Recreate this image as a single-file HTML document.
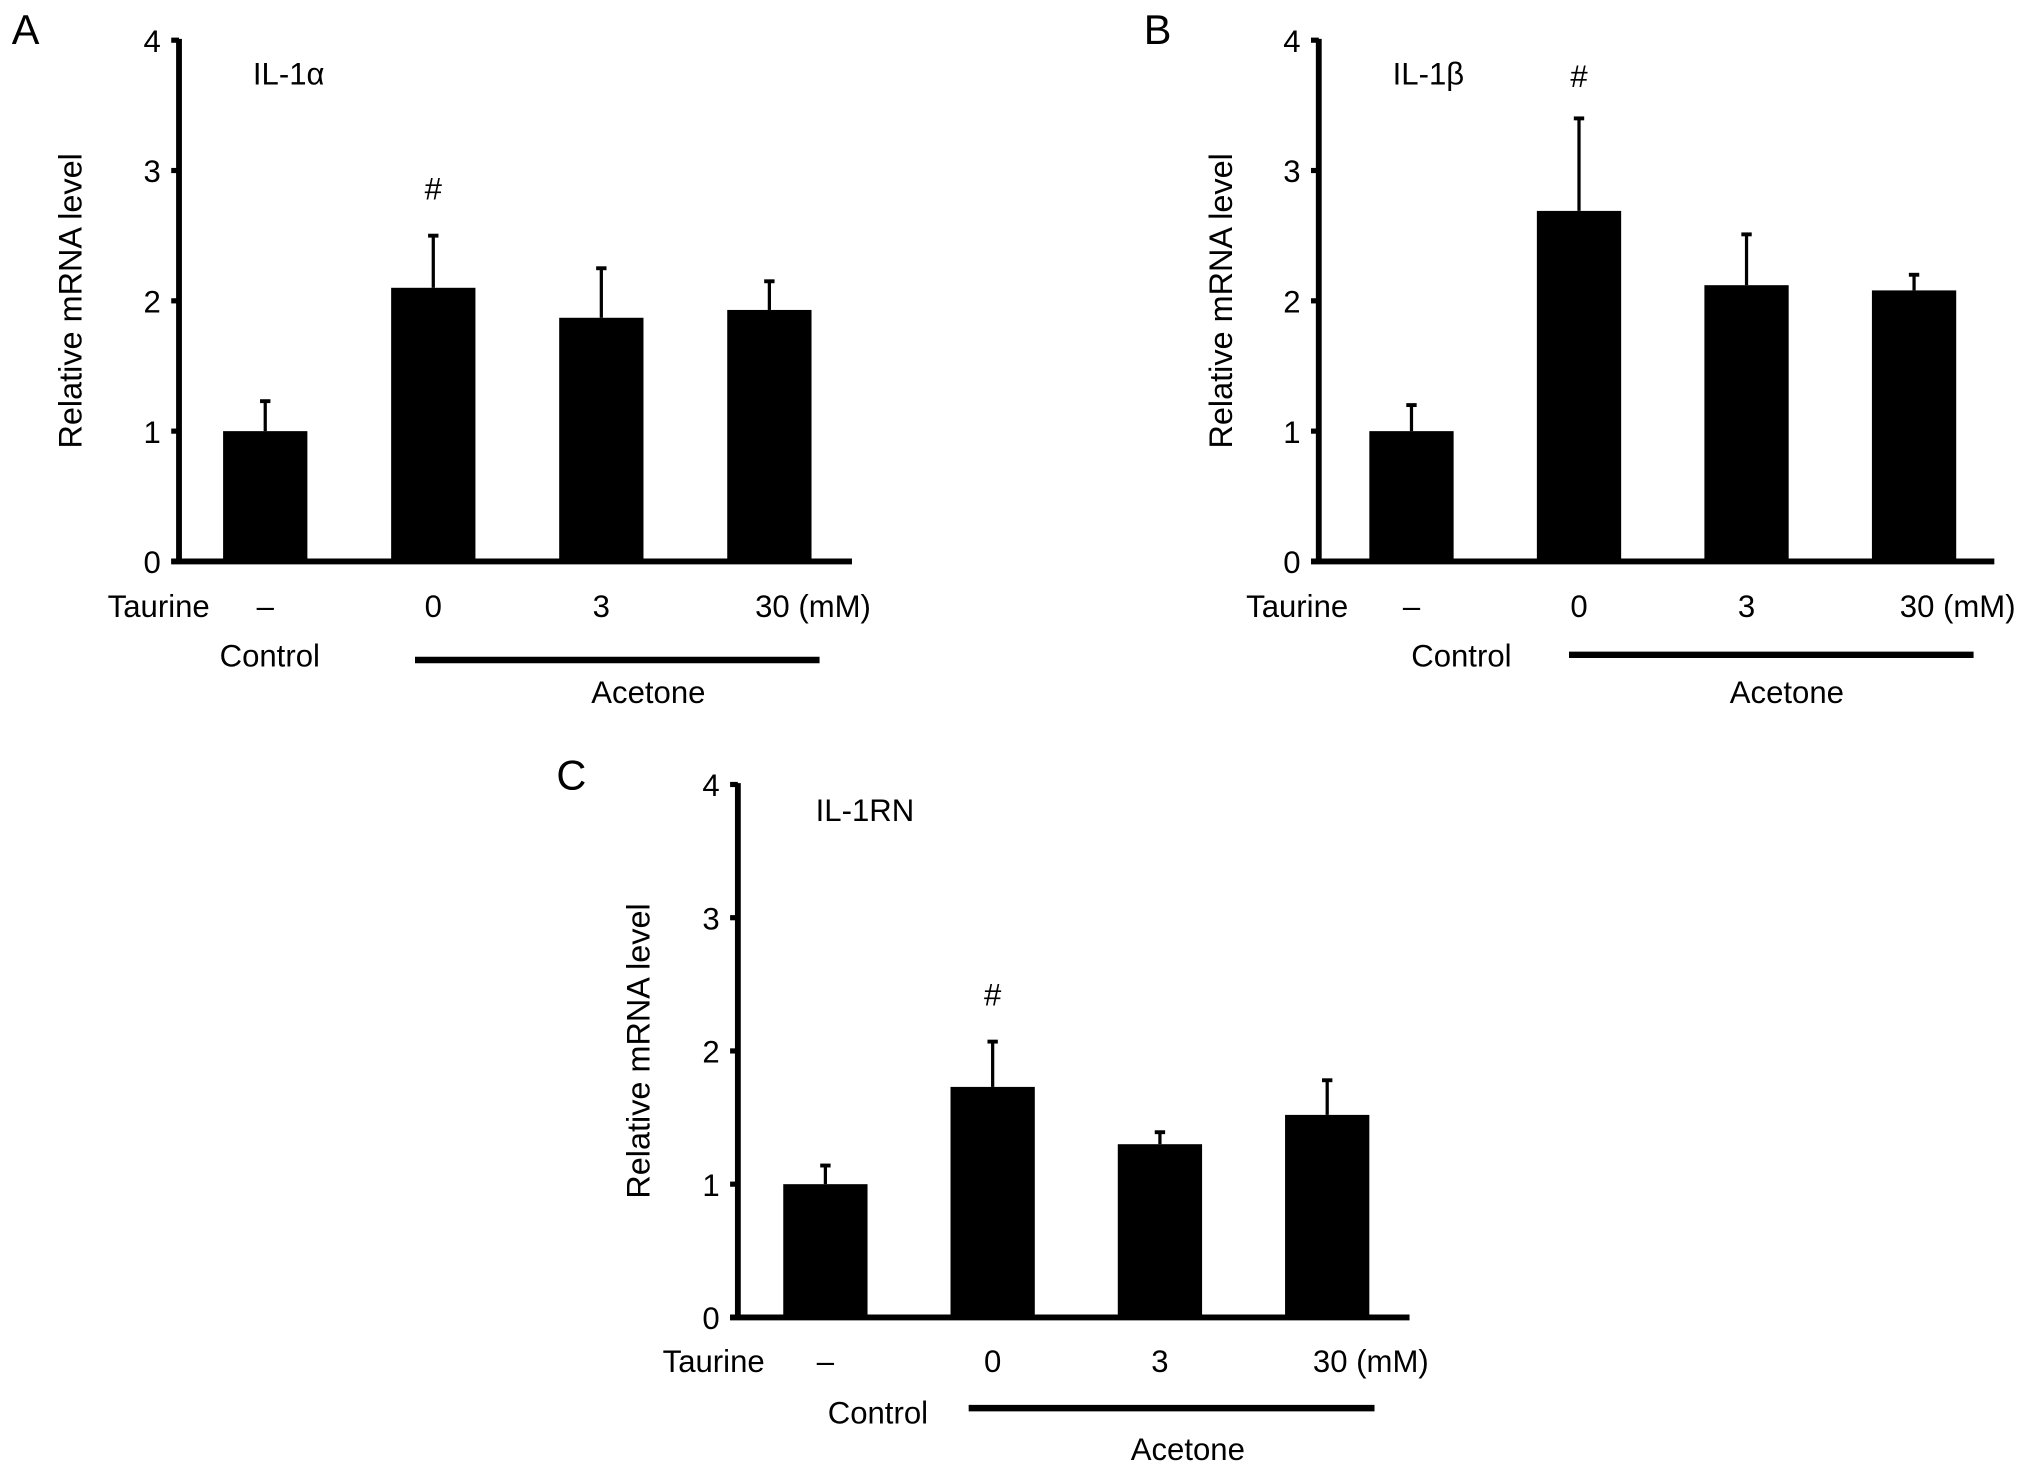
<!DOCTYPE html>
<html><head><meta charset="utf-8"><style>
html,body{margin:0;padding:0;background:#fff}
svg{display:block}
text{font-family:"Liberation Sans",sans-serif;fill:#000}
</style></head><body>
<svg id="fig" width="2032" height="1473" viewBox="0 0 1567 1136" xmlns="http://www.w3.org/2000/svg"></svg>
<script>
const categories = ["–", "0", "3", "30 (mM)"];
const yTicks = [0, 1, 2, 3, 4];
const seriesA = [1.0, 2.1, 1.87, 1.93];
const errA = [1.23, 2.5, 2.25, 2.15];
const seriesB = [1.0, 2.69, 2.12, 2.08];
const errB = [1.2, 3.4, 2.51, 2.2];
const seriesC = [1.0, 1.73, 1.3, 1.52];
const errC = [1.14, 2.07, 1.39, 1.78];

const svg = document.getElementById('fig');
const NS = 'http://www.w3.org/2000/svg';
function mk(tag, attrs, parent, txt){
  const e = document.createElementNS(NS, tag);
  for (const k in attrs) e.setAttribute(k, attrs[k]);
  if (txt !== undefined) e.textContent = txt;
  parent.appendChild(e);
  return e;
}

const panels = [
  {id:'a', letter:'A', title:'IL-1α', vals:seriesA, errs:errA, ax:138, y0:433, y4:31, xEnd:657, bar0:172, step:129.6, bw:65,
   lx:9, ly:34, tx:195, ty:65, tauX:83, labY:476, ctrlX:208, ctrlY:514, lineX1:320, lineX2:632, lineY:509, aceX:500, aceY:542, ytX:63},
  {id:'b', letter:'B', title:'IL-1β', vals:seriesB, errs:errB, ax:1017, y0:433, y4:31, xEnd:1538, bar0:1056, step:129.2, bw:65,
   lx:882, ly:34, tx:1074, ty:65, tauX:961, labY:476, ctrlX:1127, ctrlY:514, lineX1:1210, lineX2:1522, lineY:505, aceX:1378, aceY:542, ytX:950},
  {id:'c', letter:'C', title:'IL-1RN', vals:seriesC, errs:errC, ax:569, y0:1016, y4:605, xEnd:1087, bar0:604, step:129, bw:65,
   lx:429, ly:609, tx:629, ty:633, tauX:511, labY:1058, ctrlX:677, ctrlY:1098, lineX1:747, lineX2:1060, lineY:1086, aceX:916, aceY:1126, ytX:501}
];

panels.forEach(p => {
  const g = mk('g', {}, svg);
  
  
  const yScale = v => p.y0 - (p.y0 - p.y4) * v / 4;
  const xCenter = i => p.bar0 + p.step * i + p.bw / 2;

  const lt = mk('text', {x:p.lx, y:p.ly, 'font-size':32}, g, p.letter);
  
  

  p.vals.forEach((v, i) => {
    const r = mk('rect', {x:xCenter(i) - p.bw/2, y:yScale(v), width:p.bw, height:p.y0 - yScale(v), fill:'#000'}, g);
    
    
    const e = mk('line', {x1:xCenter(i), x2:xCenter(i), y1:yScale(v), y2:yScale(p.errs[i]), stroke:'#000', 'stroke-width':2.5}, g);
    
    
    const c = mk('line', {x1:xCenter(i)-4, x2:xCenter(i)+4, y1:yScale(p.errs[i]), y2:yScale(p.errs[i]), stroke:'#000', 'stroke-width':3}, g);
    
    
  });

  const ya = mk('line', {x1:p.ax, x2:p.ax, y1:p.y4 - 1, y2:p.y0 + 2, stroke:'#000', 'stroke-width':4.5}, g);
  
  
  const xa = mk('line', {x1:p.ax - 6, x2:p.xEnd, y1:p.y0, y2:p.y0, stroke:'#000', 'stroke-width':4.5}, g);
  
  

  yTicks.forEach(t => {
    const tk = mk('line', {x1:p.ax - 6, x2:p.ax, y1:yScale(t), y2:yScale(t), stroke:'#000', 'stroke-width':4}, g);
    
    
    const tl = mk('text', {x:p.ax - 14, y:yScale(t) + 9, 'font-size':24, 'text-anchor':'end'}, g, String(t));
    
    
  });

  const yc = (p.y0 + p.y4) / 2;
  const yt = mk('text', {x:p.ytX, y:yc, 'font-size':25, 'text-anchor':'middle', transform:`rotate(-90 ${p.ytX} ${yc})`}, g, 'Relative mRNA level');
  
  

  const ti = mk('text', {x:p.tx, y:p.ty, 'font-size':24}, g, p.title);
  
  

  const hy = yScale(p.errs[1]) - 28;
  const hs = mk('text', {x:xCenter(1), y:Math.max(hy, p.y4 + 36), 'font-size':24, 'text-anchor':'middle'}, g, '#');
  
  

  const tau = mk('text', {x:p.tauX, y:p.labY, 'font-size':24}, g, 'Taurine');
  
  
  categories.forEach((c, i) => {
    const last = i === categories.length - 1;
    const cl = mk('text', {x: last ? xCenter(i) - 11 : xCenter(i), y:p.labY, 'font-size':24, 'text-anchor': last ? 'start' : 'middle'}, g, c);
    
    
  });
  const ct = mk('text', {x:p.ctrlX, y:p.ctrlY, 'font-size':24, 'text-anchor':'middle'}, g, 'Control');
  
  
  const ln = mk('line', {x1:p.lineX1, x2:p.lineX2, y1:p.lineY, y2:p.lineY, stroke:'#000', 'stroke-width':5}, g);
  
  
  const ac = mk('text', {x:p.aceX, y:p.aceY, 'font-size':24, 'text-anchor':'middle'}, g, 'Acetone');
  
  
});
</script>
</body></html>
